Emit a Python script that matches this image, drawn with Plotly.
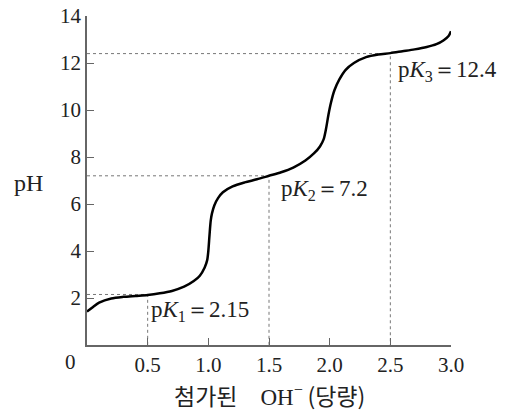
import plotly.graph_objects as go

# titration curve (equivalents of OH- added vs pH)
oh_eq = [0, 0.05, 0.1, 0.2, 0.3, 0.4, 0.5, 0.6, 0.7, 0.8, 0.88, 0.93, 0.97, 0.99, 1.0,
         1.01, 1.02, 1.03, 1.05, 1.08, 1.12, 1.2, 1.3, 1.4, 1.5, 1.6, 1.7, 1.8, 1.87,
         1.92, 1.95, 1.97, 1.99, 2.01, 2.04, 2.08, 2.13, 2.2, 2.3, 2.4, 2.5, 2.6, 2.7,
         2.8, 2.88, 2.94, 2.98, 3.0]
ph = [1.42, 1.62, 1.8, 1.98, 2.05, 2.09, 2.13, 2.2, 2.3, 2.48, 2.72, 2.95, 3.3, 3.6, 4.0,
      4.7, 5.3, 5.6, 5.95, 6.25, 6.5, 6.75, 6.92, 7.05, 7.2, 7.35, 7.55, 7.85, 8.15,
      8.45, 8.75, 9.2, 9.8, 10.3, 10.85, 11.3, 11.7, 12.0, 12.25, 12.36, 12.42, 12.5, 12.58,
      12.68, 12.8, 12.97, 13.15, 13.35]

pk_x = [0.5, 1.5, 2.5]
pk_values = [2.15, 7.2, 12.4]
pk_labels = ["p<i>K</i><sub>1</sub>＝2.15", "p<i>K</i><sub>2</sub>＝7.2", "p<i>K</i><sub>3</sub>＝12.4"]
pk_label_y = [1.45, 6.6, 11.65]
pk_label_shift = [1, 10, 6]

x_ticks = [0.5, 1.0, 1.5, 2.0, 2.5, 3.0]
x_ticklabels = ["0.5", "1.0", "1.5", "2.0", "2.5", "3.0"]
y_ticks = [2, 4, 6, 8, 10, 12, 14]

SERIF = "Liberation Serif, Times New Roman, serif"
KR = "Noto Sans CJK KR"
FS = 21

fig = go.Figure()

for px_, pv in zip(pk_x, pk_values):
    fig.add_trace(go.Scatter(x=[0, px_, px_], y=[pv, pv, 0], mode="lines",
                             line=dict(color="#777777", width=1, dash="3px,3px"),
                             hoverinfo="skip", showlegend=False))

fig.add_trace(go.Scatter(x=oh_eq, y=ph, mode="lines",
                         line=dict(color="black", width=2.5, shape="spline", smoothing=0.8),
                         showlegend=False))

for px_, ly, lab, sh in zip(pk_x, pk_label_y, pk_labels, pk_label_shift):
    fig.add_annotation(x=px_, y=ly, text=lab, showarrow=False, xanchor="left",
                       xshift=sh, font=dict(family=SERIF, size=23, color="#222"))

fig.add_annotation(x=0, y=0, text="0", showarrow=False, xanchor="right", yanchor="top",
                   xshift=-9, yshift=-3, font=dict(family=SERIF, size=FS, color="#222"))

fig.add_annotation(x=-0.16, xref="paper", y=6.9, text="pH", showarrow=False,
                   xanchor="center", font=dict(family=SERIF, size=24, color="#222"))

title_text = (f"<span style='font-family:{KR}'>첨가된\u3000</span>OH<sup>−</sup>"
              f"<span style='font-family:{KR}'>\u2009(당량)</span>")
fig.add_annotation(x=0.5, xref="paper", y=-0.152, yref="paper", yanchor="middle",
                   text=title_text, showarrow=False,
                   font=dict(family=SERIF, size=23, color="#222"))

fig.update_layout(
    width=499, height=407,
    margin=dict(l=79, r=56, t=8, b=70, autoexpand=False),
    plot_bgcolor="white", paper_bgcolor="white",
    xaxis=dict(range=[0, 3.0], tickvals=x_ticks, ticktext=x_ticklabels, automargin=False,
               ticklabeloverflow="allow",
               showgrid=False, zeroline=False, showline=True, linecolor="#666", linewidth=1.5,
               ticks="inside", ticklen=7, tickcolor="#666", tickwidth=1.2,
               tickfont=dict(family=SERIF, size=FS, color="#222")),
    yaxis=dict(range=[0, 14], tickvals=y_ticks, automargin=False,
               ticklabeloverflow="allow",
               showgrid=False, zeroline=False, showline=True, linecolor="#666", linewidth=1.5,
               ticks="inside", ticklen=7, tickcolor="#666", tickwidth=1.2,
               tickfont=dict(family=SERIF, size=FS, color="#222")),
)

fig.write_html("out.html")
